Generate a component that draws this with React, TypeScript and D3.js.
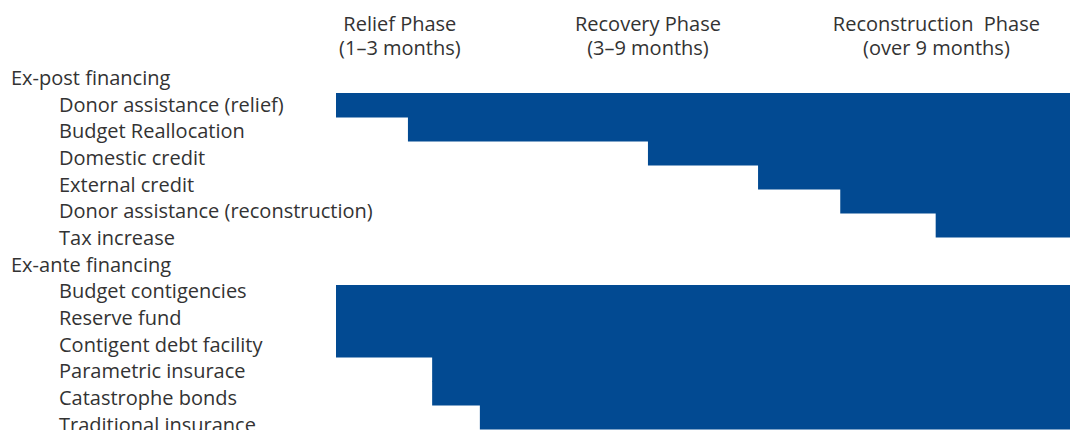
import React from "react";
import * as d3 from "d3";

const W = 1070;
const H = 430;

const phaseTitles = ["Relief Phase", "Recovery Phase", "Reconstruction  Phase"];
const phaseSubtitles = ["(1\u20133 months)", "(3\u20139 months)", "(over 9 months)"];
const phaseCenters = [8.7, 42.5, 81.8];

const groupNames = ["Ex-post financing", "Ex-ante financing"];

const expostItems = [
  "Donor assistance (relief)",
  "Budget Reallocation",
  "Domestic credit",
  "External credit",
  "Donor assistance (reconstruction)",
  "Tax increase",
];
const expostStarts = [0, 9.8, 42.5, 57.5, 68.7, 81.7];

const exanteItems = [
  "Budget contigencies",
  "Reserve fund",
  "Contigent debt facility",
  "Parametric insurace",
  "Catastrophe bonds",
  "Traditional insurance",
];
const exanteStarts = [0, 0, 0, 13.1, 13.1, 19.6];

const FONT = "'Open Sans', 'DejaVu Sans', sans-serif";
const TEXT = "#333333";
const BAR = "#024a92";
const FS = 20;

export default function App() {
  const x = d3.scaleLinear().domain([0, 100]).range([336, 1070]);

  const labelRows: { text: string; indent: boolean }[] = [];
  labelRows.push({ text: groupNames[0], indent: false });
  expostItems.forEach((t) => labelRows.push({ text: t, indent: true }));
  labelRows.push({ text: groupNames[1], indent: false });
  exanteItems.forEach((t) => labelRows.push({ text: t, indent: true }));

  const yLabel = d3.scaleLinear().domain([0, 13]).range([85, 431.7]);

  const yBar = d3.scaleLinear().domain([0, 1]).range([0, 24]);
  const expostTop = 93;
  const exanteTop = 285;

  return (
    <div style={{ position: "fixed", left: 0, top: 0, width: W, height: H, overflow: "hidden" }}>
      <svg width={W} height={H} style={{ display: "block", background: "#fff" }}>
        {expostStarts.map((s, i) => (
          <rect
            key={"ep" + i}
            x={x(s)}
            y={expostTop + yBar(i)}
            width={x(100) - x(s)}
            height={yBar(1) + 0.5}
            fill={BAR}
          />
        ))}
        {exanteStarts.map((s, i) => (
          <rect
            key={"ea" + i}
            x={x(s)}
            y={exanteTop + yBar(i)}
            width={x(100) - x(s)}
            height={yBar(1) + 0.5}
            fill={BAR}
          />
        ))}
        {phaseTitles.map((t, i) => (
          <g key={"ph" + i} fontFamily={FONT} fontSize={FS} fill={TEXT} textAnchor="middle">
            <text x={x(phaseCenters[i])} y={31} style={{ whiteSpace: "pre" }}>
              {t}
            </text>
            <text x={x(phaseCenters[i])} y={55}>
              {phaseSubtitles[i]}
            </text>
          </g>
        ))}
        {labelRows.map((r, i) => (
          <text
            key={"l" + i}
            x={r.indent ? 59 : 11}
            y={yLabel(i)}
            fontFamily={FONT}
            fontSize={FS}
            fill={TEXT}
          >
            {r.text}
          </text>
        ))}
      </svg>
    </div>
  );
}
